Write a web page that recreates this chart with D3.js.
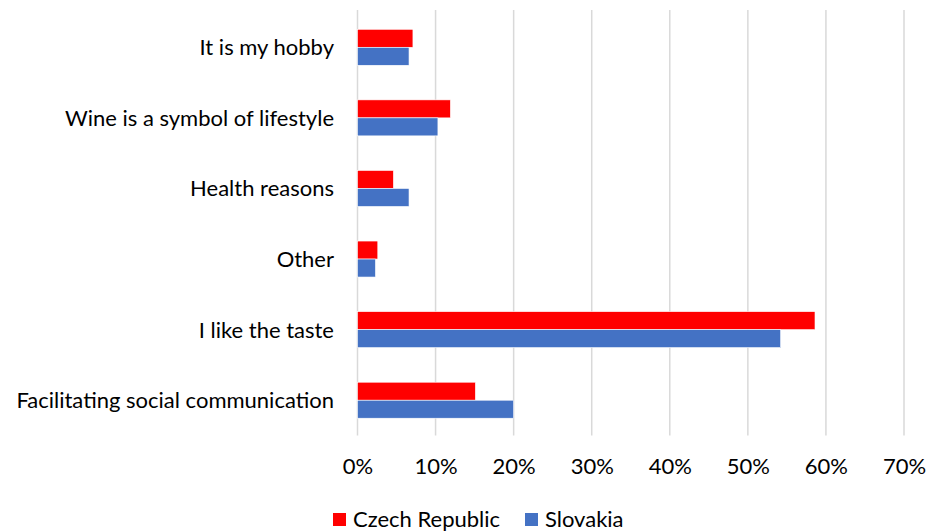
<!DOCTYPE html>
<html>
<head>
<meta charset="utf-8">
<script src="https://cdn.jsdelivr.net/npm/d3@7/dist/d3.min.js"></script>
<style>
  html, body { margin: 0; padding: 0; background: #fff; }
  svg text { font-family: Lato, "Open Sans", sans-serif; fill: #000; }
</style>
</head>
<body>
<svg id="chart" width="927" height="531"></svg>
<script>
// Reasons for drinking wine, share of respondents (%)
const categories = [
  "It is my hobby",
  "Wine is a symbol of lifestyle",
  "Health reasons",
  "Other",
  "I like the taste",
  "Facilitating social communication"
];
const seriesNames = ["Czech Republic", "Slovakia"];
const czechValues = [7.1, 11.9, 4.6, 2.6, 58.6, 15.1];
const slovakValues = [6.6, 10.3, 6.6, 2.3, 54.2, 20.0];
const tickValues = [0, 10, 20, 30, 40, 50, 60, 70];
const colors = ["#FF0000", "#4472C4"];

const FONT = "Lato, 'Open Sans', sans-serif";
const FS = 22;

const svg = d3.select("#chart");
const margin = { left: 357.5, right: 23, top: 12, bottom: 95.5 };
const W = 927, H = 531;

const x = d3.scaleLinear().domain([0, 70]).range([margin.left, W - margin.right]);
const y = d3.scaleBand().domain(categories)
  .range([margin.top, H - margin.bottom])
  .paddingInner(0.49).paddingOuter(0.245);
const ySub = d3.scaleBand().domain(seriesNames).range([0, y.bandwidth()]);

// vertical gridlines
svg.append("g")
  .selectAll("line")
  .data(tickValues)
  .join("line")
  .attr("x1", d => x(d)).attr("x2", d => x(d))
  .attr("y1", margin.top - 2).attr("y2", H - margin.bottom)
  .attr("stroke", "#d9d9d9").attr("stroke-width", 1.5);

// bars
const rows = categories.map((c, i) => ({
  cat: c,
  vals: [{ s: seriesNames[0], v: czechValues[i] }, { s: seriesNames[1], v: slovakValues[i] }]
}));
const groups = svg.append("g").selectAll("g")
  .data(rows).join("g")
  .attr("transform", d => `translate(0,${y(d.cat)})`);
groups.selectAll("rect")
  .data(d => d.vals).join("rect")
  .attr("x", x(0))
  .attr("y", d => ySub(d.s))
  .attr("width", d => x(d.v) - x(0))
  .attr("height", ySub.bandwidth())
  .attr("fill", (d, i) => colors[i])
  .attr("stroke", "#fff").attr("stroke-width", 0.6);

// x axis labels
const xAxis = d3.axisBottom(x).tickValues(tickValues).tickFormat(d => d + "%").tickSize(0).tickPadding(0);
const gx = svg.append("g").call(xAxis);
gx.select(".domain").remove();
gx.selectAll("text")
  .attr("y", 474).attr("dy", 0)
  .attr("font-size", FS).attr("fill", "#000").attr("font-family", FONT);

// y axis labels
const yAxis = d3.axisLeft(y).tickSize(0).tickPadding(23.5);
const gy = svg.append("g").attr("transform", `translate(${margin.left},0)`).call(yAxis);
gy.select(".domain").remove();
gy.selectAll("text").attr("dy", "0.36em")
  .attr("font-size", FS).attr("fill", "#000").attr("font-family", FONT);

// legend
const legend = svg.append("g").attr("transform", "translate(333,527)");
const legendX = [0, 192];
seriesNames.forEach((s, i) => {
  const g = legend.append("g").attr("transform", `translate(${legendX[i]},0)`);
  g.append("rect").attr("x", 0).attr("y", -14).attr("width", 13).attr("height", 13).attr("fill", colors[i]);
  g.append("text").attr("x", 20).attr("y", 0).attr("font-size", FS).text(s);
});
</script>
</body>
</html>
